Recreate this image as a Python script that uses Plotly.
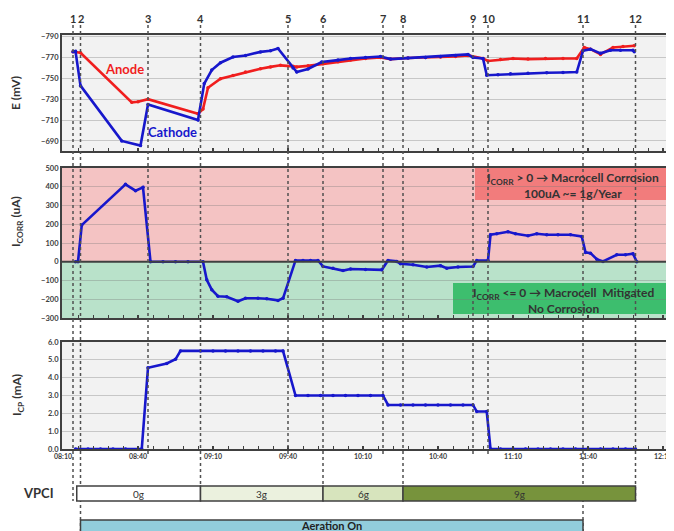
import plotly.graph_objects as go
import pandas as pd

DAY = "2024-01-01 "

# ---------------- data ----------------
cathode_t = ["08:14", "08:15", "08:17", "08:33:30", "08:41", "08:44", "09:04", "09:06:30", "09:09:30",
             "09:13", "09:18", "09:23", "09:29", "09:33", "09:36", "09:42", "09:43:30", "09:48",
             "09:53:30", "10:00", "10:05", "10:11", "10:17", "10:21", "10:28", "10:35", "10:41",
             "10:47", "10:52", "10:54", "10:58", "10:59:30", "11:04", "11:09", "11:16", "11:23:30",
             "11:30", "11:35:30", "11:38", "11:41", "11:45", "11:49", "11:53", "11:58", "11:58:30"]
cathode_v = [-775.5, -776, -743, -690, -685.5, -725, -710, -745, -758,
             -765, -770.5, -772, -775.4, -776.5, -778.7, -760, -756, -759,
             -765.7, -767.5, -769, -770, -771, -768.5, -769.5, -770, -771,
             -772, -773, -770, -769, -753, -753.5, -754.5, -755, -755.4,
             -755.6, -756, -776.4, -778, -774, -777, -777, -777, -775.5]

anode_t = ["08:14", "08:17", "08:37:30", "08:40", "08:44", "09:04", "09:06", "09:08", "09:13",
           "09:18", "09:23", "09:29", "09:33", "09:37", "09:42", "09:43:30", "09:48", "09:54",
           "10:00", "10:05", "10:11", "10:17", "10:21", "10:28", "10:35", "10:41", "10:47",
           "10:52", "10:58", "11:00", "11:05", "11:10", "11:16", "11:23", "11:30", "11:35:30",
           "11:38:30", "11:41", "11:45", "11:50", "11:54", "11:58:30"]
anode_v = [-775.5, -774.5, -727, -727.6, -730, -716, -720.5, -741, -749.6,
           -752.8, -756, -759.3, -761, -762.5, -761.5, -761, -762, -764,
           -766, -767.5, -769, -770, -768.5, -769.5, -770, -770.5, -771,
           -772, -769, -766.7, -768, -769, -768.5, -769, -769, -769,
           -779.7, -778, -773, -779.7, -780.5, -781.3]

icorr_t = ["08:15", "08:16", "08:17:30", "08:35", "08:39", "08:42", "08:45", "08:50", "08:55",
           "09:00", "09:06", "09:07:30", "09:09:30", "09:12", "09:15:30", "09:20", "09:23", "09:28",
           "09:31:30", "09:36", "09:38", "09:43", "09:46", "09:49", "09:52", "09:54", "09:58",
           "10:02", "10:05", "10:11", "10:17:30", "10:20", "10:23:30", "10:25", "10:30", "10:35:30",
           "10:41", "10:43:30", "10:48", "10:54", "10:55:30", "11:00", "11:01", "11:03:30", "11:08",
           "11:11", "11:16", "11:19:30", "11:23:30", "11:28", "11:33", "11:37:30", "11:39", "11:41",
           "11:43:30", "11:46", "11:51:30", "11:55", "11:58", "11:59:30"]
icorr_v = [0, 0, 196, 413, 379, 397, 0, 0, 0,
           0, 0, -96, -149, -184, -187, -211, -195, -195,
           -197, -206, -195, 7, 7, 7, 7, -25, -34,
           -47, -39, -41, -43, 7, 2, -11, -16, -28,
           -21, -34, -28, -25, 7, 7, 144, 149, 160,
           149, 139, 149, 144, 144, 144, 135, 50, 46,
           14, 2, 37, 37, 43, 0]

icp_t = ["08:15", "08:20", "08:25", "08:30", "08:35", "08:41:30", "08:44", "08:51:30", "08:55",
         "08:57", "09:05", "09:10", "09:15", "09:20", "09:25", "09:30", "09:35", "09:38",
         "09:43", "09:48", "09:53", "09:58", "10:03", "10:08", "10:13", "10:18",
         "10:20", "10:25", "10:30", "10:35", "10:40", "10:45", "10:50", "10:54",
         "10:55:30", "10:59:30", "11:01", "11:05", "11:10", "11:15", "11:20", "11:25",
         "11:30", "11:35", "11:40", "11:45", "11:50", "11:55", "11:59"]
icp_v = [0, 0, 0, 0, 0, 0, 4.56, 4.8, 5.03,
         5.5, 5.5, 5.5, 5.5, 5.5, 5.5, 5.5, 5.5, 5.5,
         3.0, 3.0, 3.0, 3.0, 3.0, 3.0, 3.0, 3.0,
         2.47, 2.47, 2.47, 2.47, 2.47, 2.47, 2.47, 2.47,
         2.1, 2.1, 0, 0, 0, 0, 0, 0,
         0, 0, 0, 0, 0, 0, 0]

event_labels = ["1", "2", "3", "4", "5", "6", "7", "8", "9", "10", "11", "12"]
event_t = ["08:14", "08:17", "08:44", "09:05", "09:40", "09:54", "10:18", "10:26", "10:54",
           "11:00", "11:38", "11:59"]

vpci_labels = ["0g", "3g", "6g", "9g"]
vpci_start = ["08:15:30", "09:05", "09:54", "10:26"]
vpci_end = ["09:05", "09:54", "10:26", "11:59"]

aeration_label = "Aeration On"
aeration_start = "08:17"
aeration_end = "11:38"

y_e_ticks = [-790, -770, -750, -730, -710, -690]
y_icorr_ticks = [-300, -200, -100, 0, 100, 200, 300, 400, 500]
y_icp_ticks = [0, 1, 2, 3, 4, 5, 6]

# ---------------- styles ----------------
OFF = 8                      # page body margin of the html page
W, H = 674 - OFF, 531 - OFF
L, R = 62 - OFF, 6
PW = W - L - R
def py(p):  # page pixel row -> paper y
    return 1 - (p - OFF) / H
def px(p):  # page pixel column -> paper x
    return (p - OFF - L) / PW
def T(s):
    return DAY + (s if s.count(":") == 2 else s + ":00")
def mid_time(a, b):
    ta, tb = pd.Timestamp(T(a)), pd.Timestamp(T(b))
    return (ta + (tb - ta) / 2).strftime("%Y-%m-%d %H:%M:%S")

event_end_px = [501, 531, 455, 501, 455, 501, 455, 501, 455, 455, 531, 501]
vpci_colors = ["#FFFFFF", "#EBF1DE", "#D7E4BD", "#77933C"]

RED = "#F01E1E"
BLUE = "#1717CC"
BORDER = "#404040"
GRID = "rgba(120,120,120,0.35)"
FONT = "Lato"
TICKFONT = dict(family=FONT, size=7.5, color="#404040", weight="bold")
XTICKFONT = dict(family=FONT, size=7, color="#404040", weight="bold")

fig = go.Figure()

def line_trace(t, v, color, xa, ya):
    return go.Scatter(x=[T(s) for s in t], y=v, mode="lines+markers", xaxis=xa, yaxis=ya,
                      line=dict(color=color, width=2.6), marker=dict(color=color, size=3.5),
                      showlegend=False, hoverinfo="skip")

fig.add_trace(line_trace(anode_t, anode_v, RED, "x", "y"))
fig.add_trace(line_trace(cathode_t, cathode_v, BLUE, "x", "y"))
fig.add_trace(line_trace(icorr_t, icorr_v, BLUE, "x2", "y2"))
fig.add_trace(line_trace(icp_t, icp_v, BLUE, "x3", "y3"))

xrange = [DAY + "08:09:36", DAY + "12:12:00"]
dom_top = [py(151), py(35)]
dom_mid = [py(318), py(168)]
dom_bot = [py(449), py(342)]

xcommon = dict(type="date", range=xrange, domain=[0, 1], showgrid=False, zeroline=False,
               automargin=False,
               showline=True, mirror=True, linewidth=2, linecolor=BORDER,
               ticks="inside", ticklen=3, tickcolor=BORDER, tickwidth=1.5,
               tick0=DAY + "08:10:00", dtick=30 * 60 * 1000,
               minor=dict(ticks="inside", ticklen=3, tickcolor=BORDER, tickwidth=1,
                          dtick=6 * 60 * 1000, tick0=DAY + "08:10:00", showgrid=False))
ycommon = dict(showgrid=True, gridcolor=GRID, gridwidth=1, showline=True, mirror=True,
               automargin=False,
               linewidth=2, linecolor=BORDER, ticks="", tickfont=TICKFONT, zeroline=False)

fig.update_layout(
    width=W, height=H, margin=dict(l=L, r=R, t=0, b=0, autoexpand=False),
    paper_bgcolor="white", plot_bgcolor="#F2F2F2", showlegend=False,
    xaxis=dict(**xcommon, anchor="y", showticklabels=False),
    xaxis2=dict(**xcommon, anchor="y2", matches="x", showticklabels=False),
    xaxis3=dict(**xcommon, anchor="y3", matches="x", showticklabels=True,
                tickformat="%H:%M", tickfont=XTICKFONT, ticklabeloverflow="allow"),
    yaxis=dict(**ycommon, domain=dom_top, anchor="x", range=[-680.3, -791.6], tickvals=y_e_ticks),
    yaxis2=dict(**ycommon, domain=dom_mid, anchor="x2", range=[-300, 500], tickvals=y_icorr_ticks),
    yaxis3=dict(**ycommon, domain=dom_bot, anchor="x3", range=[0, 6], tickvals=y_icp_ticks,
                tickformat=".1f"),
)

shapes = []
# middle-panel coloured zones
shapes.append(dict(type="rect", xref="paper", yref="y2", x0=0, x1=1, y0=0, y1=500,
                   fillcolor="#F4C3C3", line=dict(width=0), layer="below"))
shapes.append(dict(type="rect", xref="paper", yref="y2", x0=0, x1=1, y0=-300, y1=0,
                   fillcolor="#B9E2CA", line=dict(width=0), layer="below"))
# note boxes
shapes.append(dict(type="rect", xref="paper", yref="y2", x0=px(475), x1=1, y0=329, y1=500,
                   fillcolor="#F27C7C", line=dict(width=0), layer="below"))
shapes.append(dict(type="rect", xref="paper", yref="y2", x0=px(453), x1=1, y0=-279, y1=-113,
                   fillcolor="#3DBE6E", line=dict(width=0), layer="below"))
# zero line in middle panel
shapes.append(dict(type="line", xref="paper", yref="y2", x0=0, x1=1, y0=0, y1=0,
                   line=dict(color=BORDER, width=2), layer="above"))

# event lines
for t, ep in zip(event_t, event_end_px):
    shapes.append(dict(type="line", xref="x", yref="paper", x0=T(t), x1=T(t),
                       y0=py(25), y1=py(ep), line=dict(color="#505050", width=1.5, dash="dot"),
                       layer="above"))

# VPCI bar
for s, e, c in zip(vpci_start, vpci_end, vpci_colors):
    shapes.append(dict(type="rect", xref="x", yref="paper", x0=T(s), x1=T(e),
                       y0=py(501), y1=py(486), fillcolor=c, line=dict(color=BORDER, width=1.5),
                       layer="above"))
# aeration bar
shapes.append(dict(type="rect", xref="x", yref="paper", x0=T(aeration_start), x1=T(aeration_end),
                   y0=py(545), y1=py(520), fillcolor="#92CDDC", line=dict(color=BORDER, width=1.5),
                   layer="above"))
fig.update_layout(shapes=shapes)

def A(text, x, y, size, color="#333333", bold=True, xref="paper", angle=0):
    f = dict(family=FONT, size=size, color=color)
    if bold:
        f["weight"] = "bold"
    return dict(text=text, xref=xref, yref="paper", x=x, y=y, showarrow=False, textangle=angle,
                xanchor="center", yanchor="middle", font=f)

ann = []
for lab, t in zip(event_labels, event_t):
    ann.append(A(lab, T(t), py(18), 11, xref="x"))
ann.append(A("Anode", px(124), py(69), 13, color=RED))
ann.append(A("Cathode", px(172), py(132), 13, color=BLUE))
ann.append(A("I<sub>CORR</sub> > 0 → Macrocell Corrosion<br>100uA ~= 1g/Year",
             px(573), py(185), 12))
ann.append(A("I<sub>CORR</sub> <= 0 → Macrocell  Mitigated<br>No Corrosion",
             px(563), py(300), 12))
ann.append(A("E (mV)", px(15), py(93), 12, angle=-90))
ann.append(A("I<sub>CORR</sub> (uA)", px(17), py(222), 12, angle=-90))
ann.append(A("I<sub>CP</sub> (mA)", px(17), py(395), 12, angle=-90))
ann.append(A("VPCI", px(38), py(493), 13))
for lab, s, e in zip(vpci_labels, vpci_start, vpci_end):
    ann.append(A(lab, mid_time(s, e), py(493.5), 10, bold=False, xref="x"))
ann.append(A(aeration_label, mid_time(aeration_start, aeration_end), py(525.5), 11,
             color="#222222", xref="x"))
fig.update_layout(annotations=ann)

fig.write_html("out.html")
